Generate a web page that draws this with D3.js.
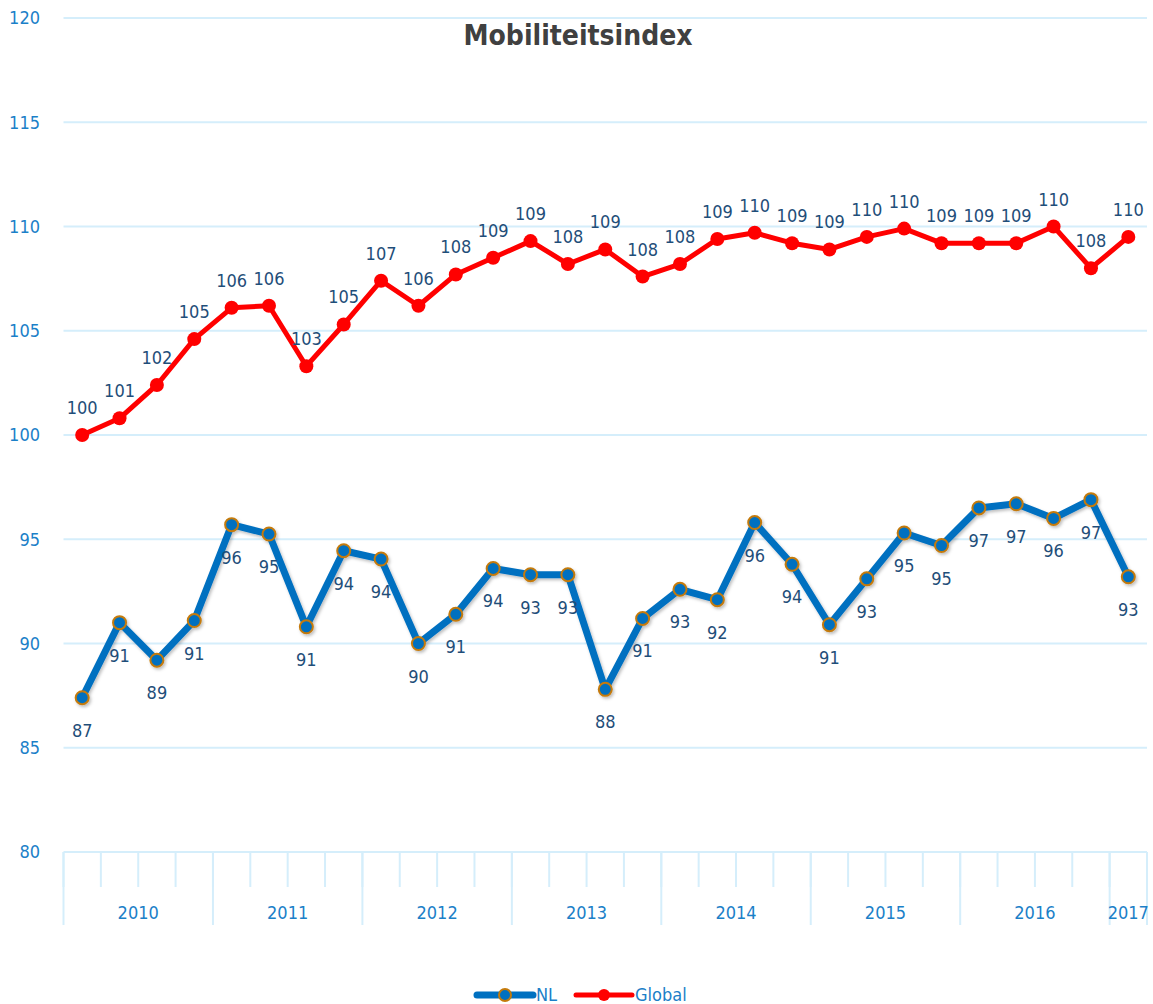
<!DOCTYPE html>
<html>
<head>
<meta charset="utf-8">
<script src="https://cdn.jsdelivr.net/npm/d3@7"></script>
<style>
  body { margin: 0; background: #fff; }
  text { font-family: "DejaVu Sans Condensed", "DejaVu Sans", sans-serif; font-stretch: condensed; }
  .grid line { stroke: #d5eefb; stroke-width: 2; }
  .ytick { fill: #1b80c8; font-size: 18px; }
  .year { fill: #1b80c8; font-size: 18px; }
  .label { fill: #1f4e79; font-size: 18px; }
  .title { fill: #404040; font-size: 28px; font-weight: bold; font-stretch: normal; }
</style>
</head>
<body>
<svg id="chart" width="1153" height="1004"></svg>
<script>
var years = ["2010", "2011", "2012", "2013", "2014", "2015", "2016", "2017"];
var quarters = [4, 4, 4, 4, 4, 4, 4, 1];

var nl = [87.4, 91.0, 89.2, 91.1, 95.7, 95.25, 90.8, 94.45, 94.05, 90.0, 91.4, 93.6, 93.3, 93.3,
          87.8, 91.2, 92.6, 92.1, 95.8, 93.8, 90.9, 93.1, 95.3, 94.7, 96.5, 96.7, 96.0, 96.9, 93.2];
var global = [100.0, 100.8, 102.4, 104.6, 106.1, 106.2, 103.3, 105.3, 107.4, 106.2, 107.7, 108.5, 109.3, 108.2,
              108.9, 107.6, 108.2, 109.4, 109.7, 109.2, 108.9, 109.5, 109.9, 109.2, 109.2, 109.2, 110.0, 108.0, 109.5];
var yTicks = [80, 85, 90, 95, 100, 105, 110, 115, 120];

var svg = d3.select("#chart");

// one category per quarter
var cats = [];
years.forEach(function(y, i) {
    for (var q = 1; q <= quarters[i]; q++) cats.push(y + "Q" + q);
});

var x = d3.scaleBand().domain(cats).range([63.5, 1147]);
var y = d3.scaleLinear().domain([80, 120]).range([852, 18]);
var cx = function(d, i) { return x(cats[i]) + x.bandwidth() / 2; };

// gridlines
svg.append("g").attr("class", "grid")
    .selectAll("line").data(yTicks).enter().append("line")
    .attr("x1", 63.5).attr("x2", 1147)
    .attr("y1", function(d) { return y(d); })
    .attr("y2", function(d) { return y(d); });

svg.selectAll(".ytick").data(yTicks).enter().append("text")
    .attr("class", "ytick")
    .attr("x", 40).attr("y", function(d) { return y(d); })
    .attr("dy", "0.35em")
    .attr("text-anchor", "end")
    .text(function(d) { return d; });

// x axis: quarter ticks short, year ticks long
var axisG = svg.append("g").attr("stroke", "#d5eefb").attr("stroke-width", 2);
var start = 0, yearEdges = [];
years.forEach(function(yr, i) {
    yearEdges.push({ yr: yr, a: x(cats[start]), b: x(cats[start + quarters[i] - 1]) + x.bandwidth() });
    start += quarters[i];
});
axisG.selectAll(".qt").data(cats).enter().append("line")
    .attr("x1", function(d) { return x(d); }).attr("x2", function(d) { return x(d); })
    .attr("y1", 852).attr("y2", 887);
axisG.selectAll(".yt").data(yearEdges).enter().append("line")
    .attr("x1", function(d) { return d.a; }).attr("x2", function(d) { return d.a; })
    .attr("y1", 852).attr("y2", 925);
axisG.append("line")
    .attr("x1", 1147).attr("x2", 1147).attr("y1", 852).attr("y2", 925);

svg.selectAll(".year").data(yearEdges).enter().append("text")
    .attr("class", "year")
    .attr("x", function(d) { return (d.a + d.b) / 2; })
    .attr("y", 919)
    .attr("text-anchor", "middle")
    .text(function(d) { return d.yr; });

// title
svg.append("text").attr("class", "title")
    .attr("x", 578).attr("y", 45)
    .attr("text-anchor", "middle")
    .text("Mobiliteitsindex");

var defs = svg.append("defs");
defs.append("filter").attr("id", "shadow")
    .append("feDropShadow")
    .attr("dx", 1.5).attr("dy", 2).attr("stdDeviation", 1.5)
    .attr("flood-color", "#000").attr("flood-opacity", 0.25);

var line = d3.line().x(cx).y(function(d) { return y(d); });

// NL series
var gNL = svg.append("g").attr("filter", "url(#shadow)");
gNL.append("path").datum(nl)
    .attr("d", line)
    .attr("fill", "none").attr("stroke", "#0070c0").attr("stroke-width", 7)
    .attr("stroke-linejoin", "round");
gNL.selectAll("circle").data(nl).enter().append("circle")
    .attr("cx", cx).attr("cy", function(d) { return y(d); })
    .attr("r", 6.5)
    .attr("fill", "#0070c0").attr("stroke", "#c47a0a").attr("stroke-width", 2);

// Global series
var gG = svg.append("g");
gG.append("path").datum(global)
    .attr("d", line)
    .attr("fill", "none").attr("stroke", "#ff0000").attr("stroke-width", 5)
    .attr("stroke-linejoin", "round");
gG.selectAll("circle").data(global).enter().append("circle")
    .attr("cx", cx).attr("cy", function(d) { return y(d); })
    .attr("r", 7)
    .attr("fill", "#ff0000");

// data labels
svg.selectAll(".lnl").data(nl).enter().append("text")
    .attr("class", "label")
    .attr("x", cx).attr("y", function(d) { return y(d) + 39; })
    .attr("text-anchor", "middle")
    .text(function(d) { return Math.round(d); });
svg.selectAll(".lgl").data(global).enter().append("text")
    .attr("class", "label")
    .attr("x", cx).attr("y", function(d) { return y(d) - 21; })
    .attr("text-anchor", "middle")
    .text(function(d) { return Math.round(d); });

// legend
var legend = [
    { name: "NL", color: "#0070c0", stroke: "#c47a0a", w: 7, x: 477 },
    { name: "Global", color: "#ff0000", stroke: "none", w: 5, x: 576 }
];
var lg = svg.selectAll(".leg").data(legend).enter().append("g")
    .attr("transform", function(d) { return "translate(" + d.x + ",995)"; });
lg.append("line").attr("x1", 0).attr("x2", 56)
    .attr("stroke", function(d) { return d.color; })
    .attr("stroke-width", function(d) { return d.w; })
    .attr("stroke-linecap", "round");
lg.append("circle").attr("cx", 28).attr("r", 6)
    .attr("fill", function(d) { return d.color; })
    .attr("stroke", function(d) { return d.stroke; })
    .attr("stroke-width", 2);
lg.append("text").attr("class", "year")
    .attr("x", 59).attr("dy", "0.35em")
    .text(function(d) { return d.name; });
</script>
</body>
</html>
